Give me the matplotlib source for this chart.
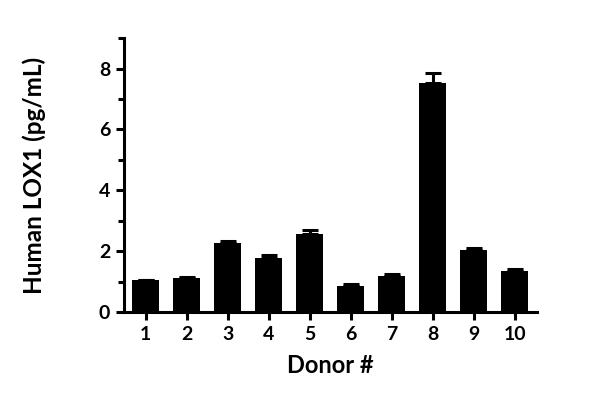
import matplotlib
matplotlib.use("Agg")
import matplotlib.pyplot as plt
from matplotlib.ticker import MultipleLocator

donors = ["1", "2", "3", "4", "5", "6", "7", "8", "9", "10"]
means = [1.05, 1.13, 2.28, 1.78, 2.57, 0.86, 1.18, 7.53, 2.04, 1.36]
errors = [0.0, 0.02, 0.04, 0.08, 0.12, 0.05, 0.06, 0.32, 0.05, 0.04]

plt.rcParams['font.family'] = ['Lato', 'DejaVu Sans']
plt.rcParams['font.weight'] = 'bold'

fig = plt.figure(figsize=(6, 4.01), dpi=100)
ax = fig.add_axes([0.2067, 0.222, 0.688, 0.683])

x = list(range(1, len(donors) + 1))
ax.bar(x, means, width=0.66, color='black', zorder=2)
ax.errorbar(x, means, yerr=[[0]*len(errors), errors], fmt='none', ecolor='black',
            elinewidth=2.2, capsize=6, capthick=2.2, zorder=3)

ax.set_xlim(0.47, 10.54)
ax.set_ylim(0, 9)
ax.set_xticks(x)
ax.set_xticklabels(donors)
ax.yaxis.set_major_locator(MultipleLocator(2))
ax.yaxis.set_minor_locator(MultipleLocator(1))

for s in ['top', 'right']:
    ax.spines[s].set_visible(False)
for s in ['left', 'bottom']:
    ax.spines[s].set_linewidth(2.2)

ax.tick_params(axis='both', which='major', width=2.2, length=6, labelsize=14, pad=4)
ax.tick_params(axis='y', which='minor', width=2.2, length=4)

ax.set_xlabel('Donor #', fontsize=17, fontweight='bold', labelpad=8)
ax.set_ylabel('Human LOX1 (pg/mL)', fontsize=17.5, fontweight='bold', labelpad=38)

fig.savefig('out.png', dpi=100)
